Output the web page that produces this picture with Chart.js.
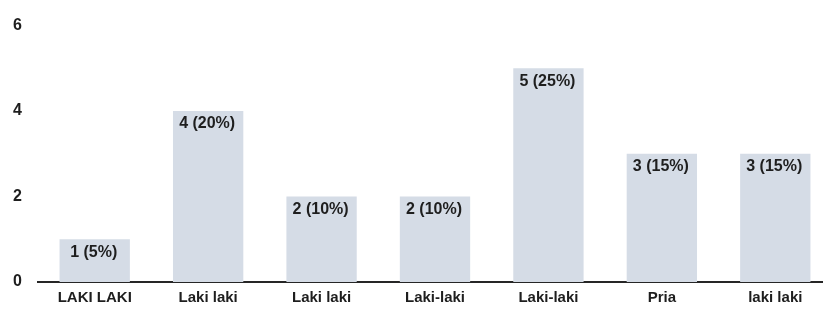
<!DOCTYPE html>
<html>
<head>
<meta charset="utf-8">
<script src="https://cdn.jsdelivr.net/npm/chart.js@4/dist/chart.umd.min.js"></script>
<style>
  html, body { margin: 0; padding: 0; background: #fff; overflow: hidden; }
  #wrap { width: 832px; height: 314px; }
</style>
</head>
<body>
<div id="wrap"><canvas id="c" width="832" height="314"></canvas></div>
<script>
const categories = ["LAKI LAKI", "Laki laki", "Laki laki", "Laki-laki", "Laki-laki", "Pria", "laki laki"];
const counts = [1, 4, 2, 2, 5, 3, 3];
const percents = [5, 20, 10, 10, 25, 15, 15];
const yTicks = [0, 2, 4, 6];

const FONT = '"Liberation Sans", Arial, sans-serif';
const TEXT = '#1e1e1e';

const valueLabels = {
  id: 'valueLabels',
  afterDatasetsDraw(chart) {
    const ctx = chart.ctx;
    const meta = chart.getDatasetMeta(0);
    ctx.save();
    ctx.font = 'bold 16px ' + FONT;
    ctx.fillStyle = TEXT;
    ctx.textAlign = 'center';
    ctx.textBaseline = 'middle';
    meta.data.forEach((bar, i) => {
      ctx.fillText(counts[i] + ' (' + percents[i] + '%)', bar.x - 1, bar.y + 13);
    });
    ctx.restore();
  }
};

new Chart(document.getElementById('c'), {
  type: 'bar',
  data: {
    labels: categories,
    datasets: [{
      data: counts,
      backgroundColor: '#d5dce6',
      borderWidth: 0,
      categoryPercentage: 1.0,
      barPercentage: 0.62
    }]
  },
  options: {
    responsive: false,
    animation: false,
    layout: { padding: { top: 22, right: 0, bottom: 0, left: 0 } },
    plugins: { legend: { display: false }, tooltip: { enabled: false } },
    scales: {
      x: {
        grid: { display: false, drawTicks: false },
        border: { display: true, color: '#262626', width: 2 },
        ticks: { color: TEXT, font: { family: FONT, size: 15, weight: 'bold' }, padding: 7, maxRotation: 0 },
        afterFit: s => { s.height = 32; }
      },
      y: {
        min: 0, max: 6,
        grid: { display: false, drawTicks: false },
        border: { display: false },
        afterBuildTicks: s => { s.ticks = yTicks.map(v => ({ value: v })); },
        ticks: { color: TEXT, font: { family: FONT, size: 16, weight: 'bold' }, padding: 16 },
        afterFit: s => { s.width = 38; }
      }
    }
  },
  plugins: [valueLabels]
});
</script>
</body>
</html>
